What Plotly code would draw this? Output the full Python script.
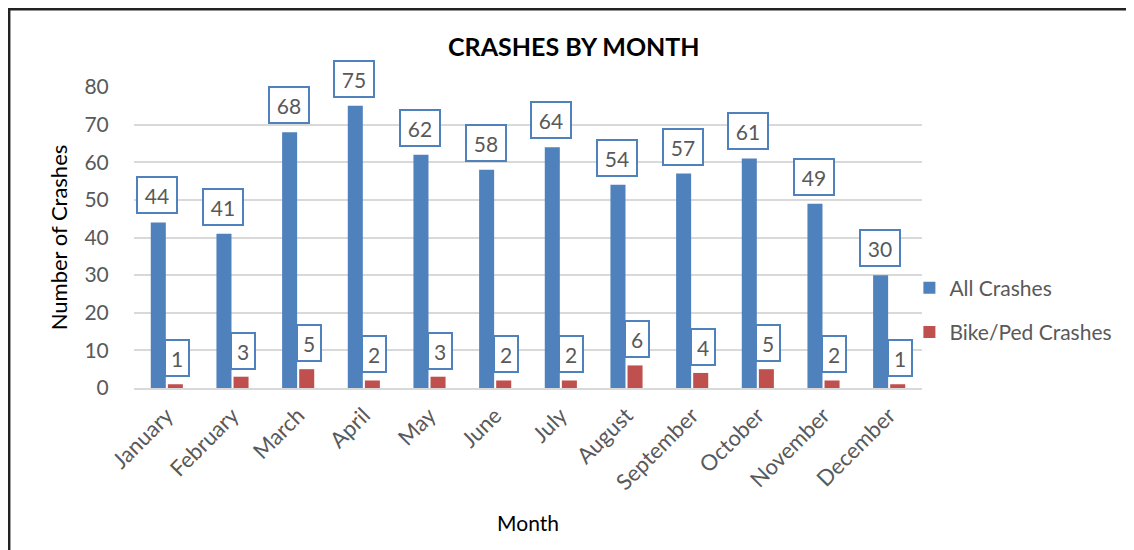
import plotly.graph_objects as go

months = ["January", "February", "March", "April", "May", "June", "July",
          "August", "September", "October", "November", "December"]
all_crashes = [44, 41, 68, 75, 62, 58, 64, 54, 57, 61, 49, 30]
bike_ped = [1, 3, 5, 2, 3, 2, 2, 6, 4, 5, 2, 1]
y_ticks = [0, 10, 20, 30, 40, 50, 60, 70, 80]

BLUE = "#4F81BD"
RED = "#C0504D"
GRAY = "#595959"
FONT = "Lato, Open Sans, sans-serif"

fig = go.Figure()
fig.add_trace(go.Bar(x=months, y=all_crashes, name="All Crashes", legendgroup="a",
                     marker=dict(color=BLUE, line=dict(width=0))))
fig.add_trace(go.Bar(x=months, y=bike_ped, name="Bike/Ped Crashes", legendgroup="b",
                     marker=dict(color=RED, line=dict(width=0))))

annotations = []
for m, v in zip(months, all_crashes):
    annotations.append(dict(x=m, y=v, xref="x", yref="y", text=str(v),
                            showarrow=False, xshift=-9.5, yshift=8,
                            yanchor="bottom", width=38, height=34,
                            bgcolor="white", bordercolor=BLUE, borderwidth=2,
                            borderpad=0, font=dict(size=21, color=GRAY, family=FONT)))
for m, v in zip(months, bike_ped):
    annotations.append(dict(x=m, y=v, xref="x", yref="y", text=str(v),
                            showarrow=False, xshift=10.5, yshift=7,
                            yanchor="bottom", width=22, height=34,
                            bgcolor="white", bordercolor=BLUE, borderwidth=2,
                            borderpad=0, font=dict(size=21, color=GRAY, family=FONT)))

fig.update_layout(
    width=1134, height=550,
    margin=dict(l=126, r=220, t=79, b=170),
    paper_bgcolor="white", plot_bgcolor="white",
    font=dict(family=FONT, color=GRAY, size=20),
    title=dict(text="<b>CRASHES BY MONTH</b>", x=0.499, xref="container",
               xanchor="center", y=0.929, yanchor="middle",
               font=dict(size=25, color="#000000", family=FONT)),
    barmode="group", bargap=0.48, bargroupgap=0.12,
    showlegend=True,
    legend=dict(x=0.984, y=0.259, xanchor="left", yanchor="middle",
                font=dict(size=21, color=GRAY, family=FONT),
                itemwidth=30, traceorder="grouped", tracegroupgap=14,
                bgcolor="rgba(0,0,0,0)"),
    annotations=annotations,
    shapes=[dict(type="rect", xref="paper", yref="paper",
                 x0=-0.1584, x1=1.4, y0=-0.6, y1=1.2585,
                 line=dict(color="#222222", width=2.5), layer="above")],
)
fig.update_xaxes(showgrid=False, showline=True, linecolor="#D9D9D9", linewidth=2,
                 tickangle=-45, tickfont=dict(size=22, color=GRAY, family=FONT),
                 ticks="outside", ticklen=4, tickcolor="rgba(0,0,0,0)",
                 title=dict(text="Month", font=dict(size=21, color="#000000", family=FONT),
                            standoff=22))
fig.update_yaxes(range=[0, 80], tickvals=y_ticks, showgrid=True, gridcolor="#D9D9D9",
                 gridwidth=1.5, zeroline=False, showline=False,
                 tickfont=dict(size=21, color=GRAY, family=FONT),
                 ticks="outside", ticklen=20, tickcolor="rgba(0,0,0,0)",
                 title=dict(text="Number of Crashes",
                            font=dict(size=22, color="#000000", family=FONT),
                            standoff=10))

fig.write_html("out.html")
